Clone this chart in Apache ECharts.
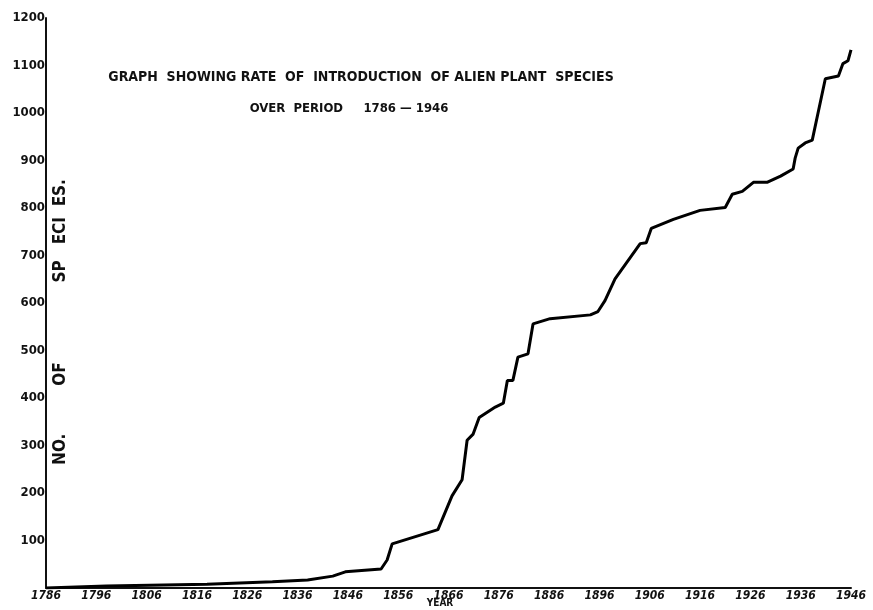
<!DOCTYPE html>
<html>
<head>
<meta charset="utf-8">
<title>Alien plant species</title>
<script src="https://cdn.jsdelivr.net/npm/echarts@6/dist/echarts.min.js"></script>
<style>
  html, body { margin: 0; padding: 0; background: #fff; }
  #chart { width: 873px; height: 610px; }
</style>
</head>
<body>
<div id="chart"></div>
<script>
// values
const years = [1786, 1798, 1818, 1831, 1838, 1843, 1845.5, 1852.6, 1853.8, 1854.8,
  1863.9, 1866.7, 1868.7, 1869.7, 1870.9, 1872.1, 1875.3, 1876.9, 1877.7, 1878.8,
  1879.8, 1881.8, 1882.8, 1886.2, 1894.2, 1895.7, 1897.1, 1899.1, 1904.1, 1905.3,
  1906.3, 1910.7, 1916, 1921, 1922.4, 1924.4, 1926.6, 1929.3, 1932, 1934.5,
  1934.9, 1935.5, 1936.9, 1938.3, 1940.9, 1943.5, 1944.4, 1945.4, 1946];
const species = [0, 4, 8, 13, 17, 25, 34, 40, 59, 93,
  123, 194, 228, 311, 324, 359, 381, 389, 437, 437,
  486, 493, 556, 567, 575, 582, 605, 651, 725, 727,
  757, 776, 795, 801, 829, 835, 854, 854, 867, 882,
  905, 926, 937, 943, 1072, 1078, 1104, 1110, 1133];

const font = "'DejaVu Sans Condensed', 'Liberation Sans Narrow', sans-serif";

let myChart = echarts.init(document.getElementById("chart"));
let option = {
  animation: false,
  backgroundColor: "#fff",
  title: [
    {
      text: "GRAPH  SHOWING RATE  OF  INTRODUCTION  OF ALIEN PLANT  SPECIES",
      left: 356,
      top: 65,
      textAlign: "center",
      textStyle: { fontFamily: font, fontWeight: "bold", fontSize: 14, color: "#111" }
    },
    {
      text: "OVER  PERIOD     1786 \u2014 1946",
      left: 344,
      top: 97,
      textAlign: "center",
      textStyle: { fontFamily: font, fontWeight: "bold", fontSize: 13, color: "#111" }
    }
  ],
  graphic: [
    {
      // y axis title, drawn inside the plot next to the axis
      type: "text",
      x: 52,
      y: 322,
      rotation: Math.PI / 2,
      style: {
        text: "NO.         OF               SP   ECI  ES.",
        font: "bold 17px " + font,
        fill: "#111",
        align: "center",
        verticalAlign: "top"
      }
    },
    {
      type: "text",
      x: 440,
      y: 598,
      style: {
        text: "YEAR",
        font: "bold 10px " + font,
        fill: "#111",
        align: "center",
        verticalAlign: "top"
      }
    }
  ],
  grid: { left: 46, right: 22, top: 18, bottom: 22, outerBoundsMode: "none" },
  xAxis: {
    type: "value",
    min: 1786,
    max: 1946,
    interval: 10,
    axisLine: { lineStyle: { color: "#111", width: 2 } },
    axisTick: { show: false },
    splitLine: { show: false },
    axisLabel: {
      margin: 2,
      formatter: (v) => String(v),
      fontFamily: font,
      fontWeight: "bold",
      fontStyle: "italic",
      fontSize: 12,
      color: "#111"
    }
  },
  yAxis: {
    type: "value",
    min: 0,
    max: 1200,
    interval: 100,
    axisLine: { show: true, lineStyle: { color: "#111", width: 2 } },
    axisTick: { show: false },
    splitLine: { show: false },
    axisLabel: {
      margin: 1,
      showMinLabel: false,
      formatter: (v) => String(v),
      fontFamily: font,
      fontWeight: "bold",
      fontSize: 13,
      color: "#111"
    }
  },
  series: [
    {
      type: "line",
      data: years.map((y, i) => [y, species[i]]),
      symbol: "none",
      lineStyle: { color: "#000", width: 3 }
    }
  ]
};
myChart.setOption(option);
</script>
</body>
</html>
